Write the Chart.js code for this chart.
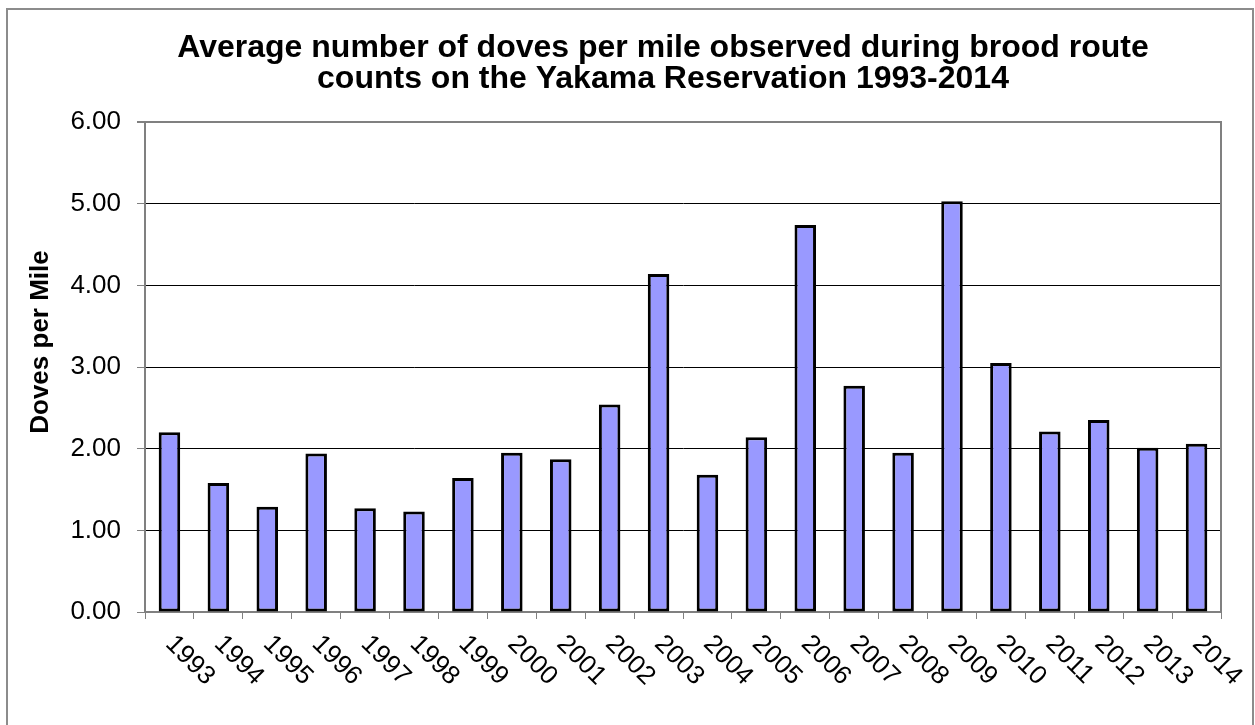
<!DOCTYPE html>
<html>
<head>
<meta charset="utf-8">
<title>Doves per mile, Yakama Reservation</title>
<script src="https://cdn.jsdelivr.net/npm/chart.js@4.4.1/dist/chart.umd.min.js"></script>
<style>
  html, body { margin: 0; padding: 0; background: #fff; }
  #wrap { width: 1255px; height: 725px; position: relative; }
</style>
</head>
<body>
<div id="wrap"><canvas id="c" width="1255" height="725"></canvas></div>
<script>
// Brood route count results, 1993-2014
const years = ['1993','1994','1995','1996','1997','1998','1999','2000','2001','2002','2003',
               '2004','2005','2006','2007','2008','2009','2010','2011','2012','2013','2014'];
const dovesPerMile = [2.20, 1.58, 1.29, 1.94, 1.27, 1.23, 1.64, 1.95, 1.87, 2.54, 4.14,
                      1.68, 2.14, 4.74, 2.77, 1.95, 5.03, 3.05, 2.21, 2.35, 2.01, 2.06];
const yTicks = [0, 1, 2, 3, 4, 5, 6];
const titleLines = ['Average number of doves per mile observed during brood route',
                    'counts on the Yakama Reservation 1993-2014'];
const yTitle = 'Doves per Mile';

const FONT = "'Liberation Sans', Arial, Helvetica, sans-serif";
const AXIS_GRAY = '#808080';

// Outer frame, chart title, rotated year labels, y-axis title and right plot border
const decorations = {
  id: 'decorations',
  beforeDraw(chart) {
    const ctx = chart.ctx;
    ctx.save();
    ctx.fillStyle = '#fff';
    ctx.fillRect(0, 0, chart.width, chart.height);
    ctx.strokeStyle = '#8c8c8c';
    ctx.lineWidth = 2;
    ctx.strokeRect(7, 9, 1246, 740);
    ctx.restore();
  },
  afterDraw(chart) {
    const ctx = chart.ctx;
    const area = chart.chartArea;
    const x = chart.scales.x;
    ctx.save();

    // right border of the plot
    ctx.strokeStyle = AXIS_GRAY;
    ctx.lineWidth = 2;
    ctx.beginPath();
    ctx.moveTo(area.right, area.top - 1);
    ctx.lineTo(area.right, area.bottom);
    ctx.stroke();

    // title
    ctx.fillStyle = '#000';
    ctx.textAlign = 'center';
    ctx.textBaseline = 'alphabetic';
    ctx.font = 'bold 32px ' + FONT;
    ctx.fillText(titleLines[0], 663, 57);
    ctx.fillText(titleLines[1], 663, 88);

    // y-axis title
    ctx.save();
    ctx.translate(48, 342);
    ctx.rotate(-Math.PI / 2);
    ctx.font = 'bold 26px ' + FONT;
    ctx.fillText(yTitle, 0, 0);
    ctx.restore();

    // year labels, slanted down to the right
    ctx.font = '26px ' + FONT;
    ctx.textAlign = 'left';
    ctx.textBaseline = 'middle';
    years.forEach((label, i) => {
      const px = x.getPixelForValue(i);
      ctx.save();
      ctx.translate(px, 640);
      ctx.rotate(Math.PI / 4);
      ctx.fillText(label, 0, 0);
      ctx.restore();
    });
    ctx.restore();
  }
};

new Chart(document.getElementById('c'), {
  type: 'bar',
  data: {
    labels: years,
    datasets: [{
      data: dovesPerMile,
      backgroundColor: '#9999ff',
      borderColor: '#000',
      borderWidth: 3,
      borderSkipped: false,
      barPercentage: 0.44,
      categoryPercentage: 1.0
    }]
  },
  options: {
    responsive: false,
    animation: false,
    devicePixelRatio: 1,
    layout: { padding: { top: 122, right: 34, left: 0, bottom: 0 } },
    plugins: {
      legend: { display: false },
      title: { display: false },
      tooltip: { enabled: false }
    },
    scales: {
      x: {
        offset: true,
        afterFit(scale) { scale.height = 113; },
        border: { display: true, color: AXIS_GRAY, width: 2 },
        grid: {
          offset: true,
          drawOnChartArea: false,
          drawTicks: true,
          tickLength: 7,
          color: AXIS_GRAY,
          lineWidth: 1
        },
        ticks: { display: false }
      },
      y: {
        min: 0,
        max: 6,
        afterFit(scale) { scale.width = 145; },
        afterBuildTicks(scale) { scale.ticks = yTicks.map(v => ({ value: v })); },
        border: { display: true, color: AXIS_GRAY, width: 2 },
        grid: {
          drawTicks: true,
          tickLength: 8,
          tickColor: AXIS_GRAY,
          color: c => (c.tick && c.tick.value === 6) ? AXIS_GRAY : '#000',
          lineWidth: c => (c.tick && c.tick.value === 6) ? 2 : 1
        },
        ticks: {
          padding: 16,
          color: '#000',
          font: { family: FONT, size: 26 },
          callback: v => Number(v).toFixed(2)
        }
      }
    }
  },
  plugins: [decorations]
});
</script>
</body>
</html>
